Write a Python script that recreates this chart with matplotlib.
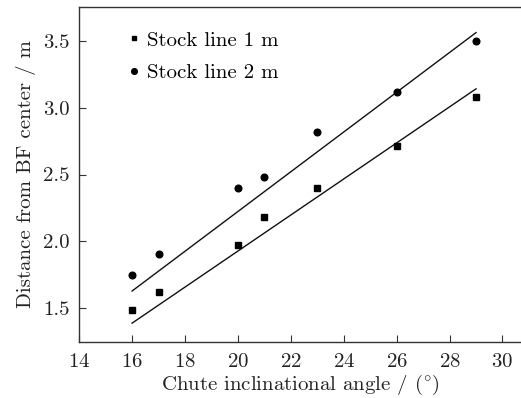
import numpy as np
import matplotlib
matplotlib.use('Agg')
import matplotlib.pyplot as plt

# data
angle = [16, 17, 20, 21, 23, 26, 29]
dist_1m = [1.49, 1.62, 1.97, 2.18, 2.40, 2.71, 3.08]
dist_2m = [1.75, 1.91, 2.40, 2.48, 2.82, 3.12, 3.50]

# calculated lines (end points)
line_x = [16, 29]
line_1m = [1.39, 3.14]
line_2m = [1.63, 3.56]

plt.rcParams['font.family'] = ['cmr10', 'DejaVu Serif']
plt.rcParams['mathtext.fontset'] = 'cm'
plt.rcParams['axes.formatter.use_mathtext'] = True

FS = 15

fig = plt.figure(figsize=(5.21, 3.98), dpi=100)
ax = fig.add_axes([0.152, 0.141, 0.848, 0.841])

ax.plot(line_x, line_1m, color='#111111', lw=1.0)
ax.plot(line_x, line_2m, color='#111111', lw=1.0)
ax.plot(angle, dist_1m, 's', color='black', ms=3.9, label='Stock line 1 m')
ax.plot(angle, dist_2m, 'o', color='black', ms=4.8, label='Stock line 2 m')

ax.set_xlim(14, 30.7)
ax.set_ylim(1.25, 3.75)
ax.set_xticks(np.arange(14, 31, 2))
ax.set_yticks([1.5, 2.0, 2.5, 3.0, 3.5])
ax.set_yticklabels(['1.5', '2.0', '2.5', '3.0', '3.5'])

ax.tick_params(direction='in', length=5, width=0.8, labelsize=FS,
               colors='#333333', labelcolor='#222222')
ax.tick_params(axis='x', pad=8)
ax.tick_params(axis='y', pad=7)
for s in ax.spines.values():
    s.set_color('#333333')
    s.set_linewidth(1.0)
ax.spines['right'].set_visible(False)

ax.set_xlabel(r'Chute inclinational angle / $(^{\circ})$', fontsize=FS,
              color='#222222', labelpad=1)
ax.set_ylabel('Distance from BF center / m', fontsize=FS, color='#222222',
              labelpad=5)

ax.legend(loc='upper left', frameon=False, fontsize=FS, handletextpad=0.1,
          handlelength=1.0, borderaxespad=0.3, labelspacing=0.66,
          markerscale=0.85, bbox_to_anchor=(0.068, 0.972))

fig.savefig('out.png', dpi=100)
